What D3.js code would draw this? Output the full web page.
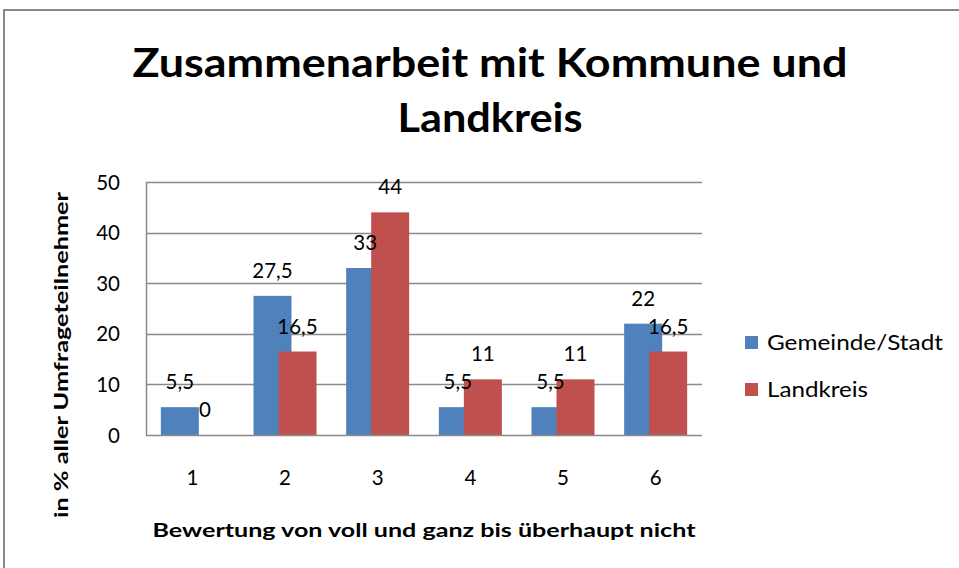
<!DOCTYPE html>
<html>
<head>
<meta charset="utf-8">
<script src="https://cdn.jsdelivr.net/npm/d3@7"></script>
<style>
  body { margin: 0; background: #fff; }
  svg { display: block; font-family: Lato, "Open Sans", sans-serif; }
</style>
</head>
<body>
<div id="chart"></div>
<script>
// data
var categories = ["1", "2", "3", "4", "5", "6"];
var gemeindeValues = [5.5, 27.5, 33, 5.5, 5.5, 22];
var landkreisValues = [0, 16.5, 44, 11, 11, 16.5];
var seriesNames = ["Gemeinde/Stadt", "Landkreis"];
var seriesColors = ["#4F81BD", "#C0504D"];
var yTicks = [0, 10, 20, 30, 40, 50];

var width = 959, height = 568;
var plot = { left: 146, right: 702, top: 182, bottom: 435 };

var svg = d3.select("#chart")
    .append("svg")
    .attr("width", width)
    .attr("height", height);

// outer frame (only left and top edges are in view)
svg.append("path")
    .attr("d", "M4,568 L4,10 L959,10")
    .attr("fill", "none")
    .attr("stroke", "#888")
    .attr("stroke-width", 2);

var x = d3.scaleBand()
    .domain(categories)
    .range([plot.left, plot.right])
    .padding(0);

var y = d3.scaleLinear()
    .domain([0, 50])
    .range([plot.bottom, plot.top]);

// gridlines
svg.append("g")
    .selectAll("line")
    .data(yTicks.slice(1))
    .enter()
    .append("line")
    .attr("x1", plot.left)
    .attr("x2", plot.right)
    .attr("y1", function (d) { return Math.round(y(d)) + 0.5; })
    .attr("y2", function (d) { return Math.round(y(d)) + 0.5; })
    .attr("stroke", "#8a8a8a")
    .attr("stroke-width", 1.5);

// bars: blue first, red overlapping on top
var bw = x.bandwidth();
var barW = bw * 0.41;
var offsets = [-bw * 0.34, -bw * 0.07];

var seriesData = [gemeindeValues, landkreisValues];

seriesData.forEach(function (vals, si) {
    svg.append("g")
        .selectAll("rect")
        .data(vals)
        .enter()
        .append("rect")
        .attr("x", function (d, i) { return x(categories[i]) + bw / 2 + offsets[si]; })
        .attr("y", function (d) { return y(d); })
        .attr("width", barW)
        .attr("height", function (d) { return y(0) - y(d); })
        .attr("fill", seriesColors[si]);
});

// axis lines
svg.append("line")
    .attr("x1", plot.left + 0.5).attr("x2", plot.left + 0.5)
    .attr("y1", plot.top).attr("y2", plot.bottom)
    .attr("stroke", "#8a8a8a").attr("stroke-width", 1.5);
svg.append("line")
    .attr("x1", plot.left).attr("x2", plot.right)
    .attr("y1", plot.bottom + 0.5).attr("y2", plot.bottom + 0.5)
    .attr("stroke", "#8a8a8a").attr("stroke-width", 1.5);

// data labels
seriesData.forEach(function (vals, si) {
    svg.append("g")
        .selectAll("text")
        .data(vals)
        .enter()
        .append("text")
        .attr("x", function (d, i) { return x(categories[i]) + bw / 2 + offsets[si] + barW / 2; })
        .attr("y", function (d) { return y(d) - 18; })
        .attr("text-anchor", "middle")
        .style("font-size", "20.5px")
        .attr("fill", "#000")
        .text(function (d) { return String(d).replace(".", ","); });
});

// y tick labels
svg.append("g")
    .selectAll("text")
    .data(yTicks)
    .enter()
    .append("text")
    .attr("x", 120)
    .attr("y", function (d) { return y(d) + 7.5; })
    .attr("text-anchor", "end")
    .style("font-size", "20.5px")
    .text(function (d) { return d; });

// x tick labels
svg.append("g")
    .selectAll("text")
    .data(categories)
    .enter()
    .append("text")
    .attr("x", function (d) { return x(d) + bw / 2; })
    .attr("y", 485)
    .attr("text-anchor", "middle")
    .style("font-size", "20.5px")
    .text(function (d) { return d; });

// title
svg.append("text")
    .attr("x", 490).attr("y", 77)
    .attr("text-anchor", "middle")
    .style("font-size", "41px").style("font-weight", "bold")
    .attr("textLength", 715).attr("lengthAdjust", "spacingAndGlyphs")
    .text("Zusammenarbeit mit Kommune und");
svg.append("text")
    .attr("x", 490).attr("y", 132)
    .attr("text-anchor", "middle")
    .style("font-size", "41px").style("font-weight", "bold")
    .attr("textLength", 185).attr("lengthAdjust", "spacingAndGlyphs")
    .text("Landkreis");

// axis titles
svg.append("text")
    .attr("x", (plot.left + plot.right) / 2).attr("y", 537)
    .attr("text-anchor", "middle")
    .style("font-size", "19.5px").style("font-weight", "bold")
    .attr("textLength", 543).attr("lengthAdjust", "spacingAndGlyphs")
    .text("Bewertung von voll und ganz bis überhaupt nicht");

svg.append("text")
    .attr("transform", "translate(68,355) rotate(-90)")
    .attr("text-anchor", "middle")
    .style("font-size", "19px").style("font-weight", "bold")
    .attr("textLength", 326).attr("lengthAdjust", "spacingAndGlyphs")
    .text("in % aller Umfrageteilnehmer");

// legend
var legendW = [176, 101];
seriesNames.forEach(function (name, i) {
    var ly = 342 + i * 47;
    svg.append("rect")
        .attr("x", 745).attr("y", ly - 6)
        .attr("width", 13).attr("height", 13)
        .attr("fill", seriesColors[i]);
    svg.append("text")
        .attr("x", 767).attr("y", ly + 7.5)
        .style("font-size", "20.5px")
        .attr("textLength", legendW[i]).attr("lengthAdjust", "spacingAndGlyphs")
        .text(name);
});
</script>
</body>
</html>
